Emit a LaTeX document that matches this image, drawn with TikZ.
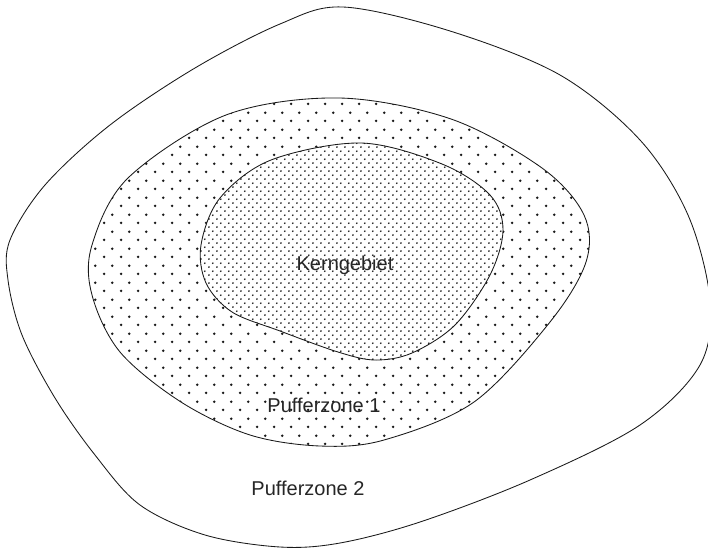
\documentclass[tikz,border=0pt]{standalone}
\usepackage{fontspec}
\setmainfont{Liberation Sans}
\usetikzlibrary{patterns}
\pgfdeclarepatternformonly{sparsedots}{\pgfpointorigin}{\pgfpoint{16.67pt}{16.67pt}}{\pgfpoint{16.67pt}{16.67pt}}{%
  \pgfpathcircle{\pgfpoint{4.17pt}{4.17pt}}{1.4pt}%
  \pgfpathcircle{\pgfpoint{12.5pt}{12.5pt}}{1.4pt}%
  \pgfusepath{fill}}
\pgfdeclarepatternformonly{densedots}{\pgfpointorigin}{\pgfpoint{8.33pt}{8.33pt}}{\pgfpoint{8.33pt}{8.33pt}}{%
  \pgfpathcircle{\pgfpoint{2.08pt}{2.08pt}}{1.0pt}%
  \pgfpathcircle{\pgfpoint{6.25pt}{6.25pt}}{1.0pt}%
  \pgfusepath{fill}}
\tikzset{
  zoneline/.style={draw=black!90, line width=0.85pt},
  zonelabel/.style={anchor=base, text=black!85, font=\fontsize{20}{24}\selectfont, inner sep=0pt},
}
\def\outerpts{(343,7) (450,31) (560,75) (640,140) (688,215) (710,300) (700,365) (640,425) (530,480) (420,522) (340,543) (280,547) (205,535) (140,505) (95,455) (55,398) (22,335) (8,280) (10,240) (45,185) (110,125) (195,68) (280,24)}
\def\midpts{(339,98) (451,119) (542,168) (584,215) (586,262) (550,322) (474,402) (384,440) (320,446) (250,435) (181,402) (120,352) (92,295) (92,245) (128,178) (226,115)}
\def\innerpts{(361,143) (442,164) (490,195) (503,230) (490,275) (455,325) (412,353) (375,360) (338,352) (280,331) (232,312) (206,283) (201,245) (220,198) (271,160)}
\begin{document}
\begin{tikzpicture}[x=1pt,y=-1pt]
\useasboundingbox (0,0) rectangle (708,548);
\fill[white] (0,0) rectangle (708,548);
\clip (0,0) rectangle (708,548);
% outer zone
\draw[zoneline] plot[smooth cycle, tension=0.55] coordinates {\outerpts};
% Pufferzone 1
\path[pattern=sparsedots, pattern color=black!90] plot[smooth cycle, tension=0.55] coordinates {\midpts};
\draw[zoneline] plot[smooth cycle, tension=0.55] coordinates {\midpts};
% Kerngebiet
\fill[white] plot[smooth cycle, tension=0.55] coordinates {\innerpts};
\path[pattern=densedots, pattern color=black!90] plot[smooth cycle, tension=0.55] coordinates {\innerpts};
\draw[zoneline] plot[smooth cycle, tension=0.55] coordinates {\innerpts};
% labels
\node[zonelabel] (kern) at (345,270) {Kerngebiet};
\node[zonelabel] (pz1) at (324,412) {Pufferzone 1};
\node[zonelabel] (pz2) at (308,495) {Pufferzone 2};
\end{tikzpicture}
\end{document}
